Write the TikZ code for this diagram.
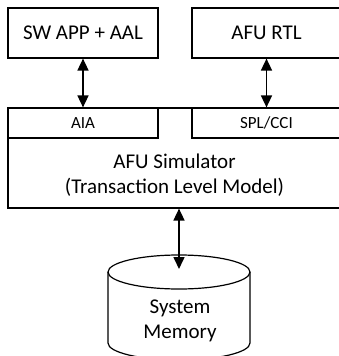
\documentclass[tikz,border=0pt]{standalone}
\usepackage{fontspec}
\setmainfont{Carlito}
\usetikzlibrary{arrows.meta}
\tikzset{
  box/.style={draw, line width=1.2pt, inner sep=0pt, font=\fontsize{21}{25}\selectfont},
  smallbox/.style={draw, line width=1.2pt, inner sep=0pt, font=\fontsize{17}{20}\selectfont},
  bigtext/.style={align=center, inner sep=0pt, font=\fontsize{21}{25}\selectfont},
  link/.style={line width=1.6pt, {Triangle[length=12pt,width=11pt]}-{Triangle[length=12pt,width=11pt]}}
}
\begin{document}
\begin{tikzpicture}[x=1pt, y=-1pt]
  \useasboundingbox (0,0) rectangle (339,356);
  \clip (0,0) rectangle (339,356);

  % upper blocks
  \node[box, minimum width=150pt, minimum height=50pt] (sw) at (83,33) {SW APP + AAL};
  \node[box, minimum width=149pt, minimum height=50pt] (rtl) at (266.5,33) {AFU RTL};

  % simulator with its two interface strips
  \node[draw, line width=1.2pt, minimum width=333pt, minimum height=100pt] (sim) at (174.5,158) {};
  \node[smallbox, minimum width=150pt, minimum height=30pt] (aia) at (83,123) {AIA};
  \node[smallbox, minimum width=149pt, minimum height=30pt] (spl) at (266.5,123) {SPL/CCI};
  \node[bigtext] (simtxt) at (174.5,175) {AFU Simulator\\(Transaction Level Model)};

  % system memory drum
  \draw[line width=1.2pt, fill=white]
    (108,272) -- (108,343) arc[start angle=180, end angle=360, x radius=71pt, y radius=17pt]
    -- (250,272);
  \draw[line width=1.2pt] (179,272) ellipse[x radius=71pt, y radius=17pt];
  \node[bigtext] (mem) at (180,321) {System\\Memory};
  \coordinate (memtop) at (179,269);

  % connections
  \draw[link] (sw.south) -- (aia.north);
  \draw[link] (rtl.south) -- (spl.north);
  \draw[link] (sim.south -| memtop) -- (memtop);
\end{tikzpicture}
\end{document}
